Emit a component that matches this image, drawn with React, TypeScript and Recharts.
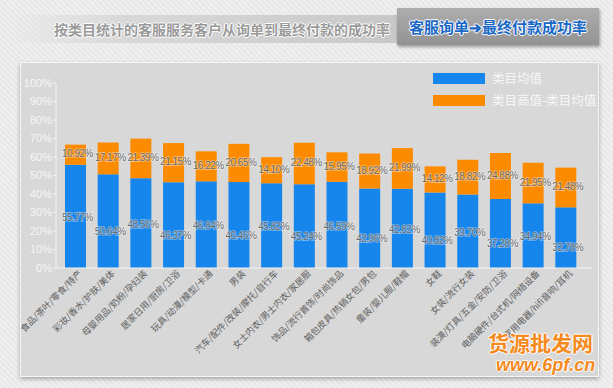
import { BarChart, Bar, XAxis, YAxis, LabelList } from 'recharts'

// 类目（16个）
const categories = [
  '食品/茶叶/零食/特产',
  '彩妆/香水/护肤/美体',
  '母婴用品/奶粉/孕妇装',
  '居家日用/厨房/卫浴',
  '玩具/动漫/模型/卡通',
  '男装',
  '汽车/配件/改装/摩托/自行车',
  '女士内衣/男士内衣/家居服',
  '饰品/流行首饰/时尚饰品',
  '箱包皮具/热销女包/男包',
  '童装/婴儿服/鞋帽',
  '女鞋',
  '女装/流行女装',
  '装潢/灯具/五金/安防/卫浴',
  '电脑硬件/台式机/网络设备',
  '家用电器/hifi音响/耳机',
]

// 类目均值 (%)
const avgValues = [55.77, 50.64, 48.56, 46.37, 46.84, 46.46, 45.82, 45.24, 46.59, 42.96, 42.82, 40.82, 39.7, 37.28, 34.94, 32.78]
// 类目高值-类目均值 (%)
const gapValues = [10.92, 17.17, 21.39, 21.15, 16.22, 20.65, 14.1, 22.48, 15.95, 18.92, 21.99, 14.12, 18.82, 24.88, 21.95, 21.48]

const yTicks = [0, 10, 20, 30, 40, 50, 60, 70, 80, 90, 100]

const SERIES = [
  { key: 'avg', name: '类目均值', color: '#1686ec' },
  { key: 'gap', name: '类目高值-类目均值', color: '#fd8b00' },
]

const data = categories.map((name, i) => ({ name, avg: avgValues[i], gap: gapValues[i] }))

const CJK = '"Noto Sans CJK SC", "Noto Sans", sans-serif'
const NUM = '"Liberation Sans", Arial, sans-serif'

function CategoryTick({ x, y, payload }: any) {
  return (
    <g transform={`translate(${x + 5},${y + 4})`}>
      <text x={0} y={0} dy="0.35em" textAnchor="end" transform="rotate(-45)" fontSize={9} fill="#5e5e5e" fontFamily={CJK}>
        {payload.value}
      </text>
    </g>
  )
}

function valueLabel(stagger: boolean) {
  return (props: any) => {
    const { x, y, width, height, value, index } = props
    const shift = stagger ? (index % 2 ? 11 : 2) : 0
    return (
      <text
        x={x + width / 2 + 2}
        y={y + height / 2 + shift}
        textAnchor="middle"
        dominantBaseline="middle"
        fontSize={10}
        letterSpacing={-0.5}
        fontFamily={NUM}
        fill="#6a6a6a"
        stroke="rgba(255,255,255,0.45)"
        strokeWidth={1.5}
        paintOrder="stroke"
      >
        {`${Number(value).toFixed(2)}%`}
      </text>
    )
  }
}

export default function App() {
  return (
    <div
      style={{
        position: 'absolute',
        left: 0,
        top: 0,
        width: 613,
        height: 388,
        overflow: 'hidden',
        background: 'repeating-linear-gradient(45deg, #efefef 0px, #efefef 2px, #e8e8e8 2px, #e8e8e8 4px)',
        fontFamily: CJK,
      }}
    >
      {/* 标题条 */}
      <div
        style={{
          position: 'absolute',
          left: 8,
          top: 15,
          width: 392,
          height: 28,
          background: 'linear-gradient(to right, rgba(255,255,255,0) 0%, #d8d8d8 30%, #c8c8c8 100%)',
        }}
      />
      <div
        style={{
          position: 'absolute',
          left: 40,
          top: 15,
          width: 350,
          height: 28,
          lineHeight: '28px',
          textAlign: 'right',
          fontSize: 14,
          fontWeight: 700,
          color: '#9a9a9a',
          textShadow: '1px 0 0 #fff, -1px 0 0 #fff, 0 1px 0 #fff, 0 -1px 0 #fff',
          whiteSpace: 'nowrap',
        }}
      >
        按类目统计的客服服务客户从询单到最终付款的成功率
      </div>
      <div
        style={{
          position: 'absolute',
          left: 397,
          top: 8,
          width: 202,
          height: 37,
          background: 'linear-gradient(#adadad, #939393)',
          boxShadow: '1px 2px 3px rgba(0,0,0,0.35)',
          lineHeight: '37px',
          textAlign: 'center',
          fontSize: 15,
          fontWeight: 700,
          color: '#1a68c6',
          textShadow: '1px 0 0 #fff, -1px 0 0 #fff, 0 1px 0 #fff, 0 -1px 0 #fff',
          whiteSpace: 'nowrap',
        }}
      >
        客服询单➔最终付款成功率
      </div>

      {/* 图表面板 */}
      <div
        style={{
          position: 'absolute',
          left: 20,
          top: 62,
          width: 577,
          height: 313,
          background: '#d8d8d8',
          border: '1px solid #f6f6f6',
          boxShadow: '0 2px 4px rgba(0,0,0,0.3)',
        }}
      />

      <div style={{ position: 'absolute', left: 0, top: 0 }}>
        <BarChart width={613} height={388} data={data} margin={{ top: 83, right: 21, bottom: 10, left: 20 }}>
          <XAxis
            dataKey="name"
            interval={0}
            height={110}
            tickSize={0}
            tickMargin={0}
            tickLine={false}
            axisLine={{ stroke: '#f2f2f2' }}
            padding={{ left: 3, right: 10 }}
            tick={<CategoryTick />}
          />
          <YAxis
            type="number"
            domain={[0, 100]}
            ticks={yTicks}
            width={36}
            tickSize={3}
            tickMargin={1}
            tickFormatter={(v) => `${v}%`}
            tick={{ fill: '#f6f6f6', fontSize: 11, fontFamily: NUM }}
            axisLine={{ stroke: '#f2f2f2' }}
            tickLine={{ stroke: '#f2f2f2' }}
          />
          <Bar dataKey="avg" name={SERIES[0].name} stackId="a" fill={SERIES[0].color} barSize={21} isAnimationActive={false}>
            <LabelList dataKey="avg" content={valueLabel(true)} />
          </Bar>
          <Bar dataKey="gap" name={SERIES[1].name} stackId="a" fill={SERIES[1].color} barSize={21} isAnimationActive={false}>
            <LabelList dataKey="gap" content={valueLabel(false)} />
          </Bar>
        </BarChart>
      </div>

      {/* 图例 */}
      {SERIES.map((s, i) => (
        <div key={s.key} style={{ position: 'absolute', left: 433, top: 72 + i * 22, height: 12, display: 'flex', alignItems: 'center' }}>
          <div style={{ width: 52, height: 11, background: s.color }} />
          <span style={{ marginLeft: 7, fontSize: 12.5, color: '#f7f7f7', whiteSpace: 'nowrap', lineHeight: '12px' }}>{s.name}</span>
        </div>
      ))}

      {/* 水印 */}
      <div
        style={{
          position: 'absolute',
          left: 488,
          top: 330,
          fontSize: 21,
          fontWeight: 700,
          color: '#f58a1f',
          textShadow: '1px 0 0 #fff, -1px 0 0 #fff, 0 1px 0 #fff, 0 -1px 0 #fff',
          whiteSpace: 'nowrap',
          lineHeight: '24px',
        }}
      >
        货源批发网
      </div>
      <div
        style={{
          position: 'absolute',
          left: 496,
          top: 355,
          fontSize: 18,
          fontWeight: 700,
          fontStyle: 'italic',
          fontFamily: NUM,
          color: '#f58a1f',
          textShadow: '1px 0 0 #fff, -1px 0 0 #fff, 0 1px 0 #fff, 0 -1px 0 #fff',
          whiteSpace: 'nowrap',
          lineHeight: '20px',
        }}
      >
        www.6pf.cn
      </div>
    </div>
  )
}
